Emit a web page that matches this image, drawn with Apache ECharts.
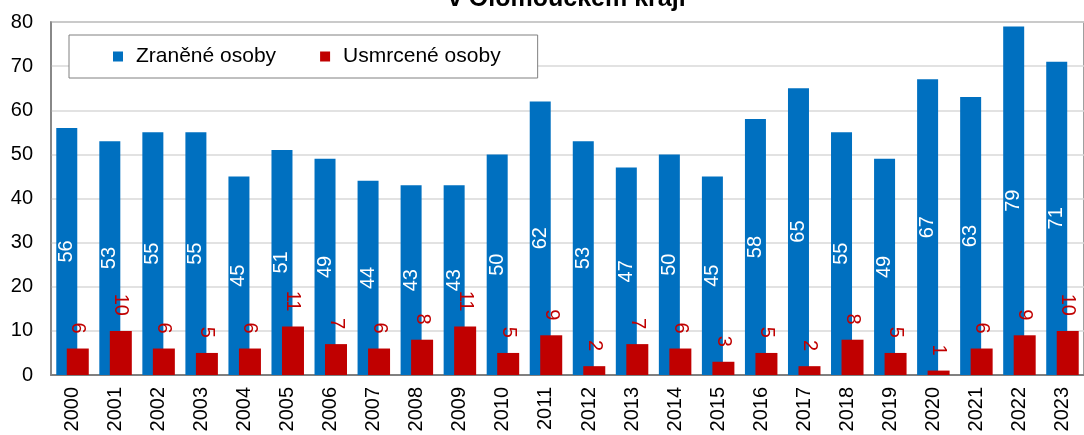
<!DOCTYPE html>
<html>
<head>
<meta charset="utf-8">
<script src="https://cdn.jsdelivr.net/npm/echarts@6/dist/echarts.min.js"></script>
<style>
  html, body { margin: 0; padding: 0; background: #fff; }
  #chart { width: 1084px; height: 435px; }
</style>
</head>
<body>
<div id="chart"></div>
<script>
const years = ['2000', '2001', '2002', '2003', '2004', '2005', '2006', '2007', '2008', '2009', '2010', '2011',
  '2012', '2013', '2014', '2015', '2016', '2017', '2018', '2019', '2020', '2021', '2022', '2023'];
const injured = [56, 53, 55, 55, 45, 51, 49, 44, 43, 43, 50, 62, 53, 47, 50, 45, 58, 65, 55, 49, 67, 63, 79, 71];
const killed = [6, 10, 6, 5, 6, 11, 7, 6, 8, 11, 5, 9, 2, 7, 6, 3, 5, 2, 8, 5, 1, 6, 9, 10];
const yTicks = [0, 80, 10];

const font = 'Liberation Sans, Arial, sans-serif';
const chart = echarts.init(document.getElementById('chart'));

chart.setOption({
  animation: false,
  textStyle: { fontFamily: font },
  title: {
    text: 'v Olomouckém kraji',
    left: 443,
    top: -18,
    textStyle: { fontFamily: font, fontSize: 25, fontWeight: 'bold', color: '#000' }
  },
  legend: {
    left: 69,
    top: 35,
    backgroundColor: '#fff',
    borderColor: '#808080',
    borderWidth: 1,
    borderRadius: 0,
    padding: [11, 37, 11, 44],
    itemWidth: 10,
    itemHeight: 10,
    itemGap: 44,
    icon: 'rect',
    textStyle: { fontFamily: font, fontSize: 21, color: '#000', padding: [0, 0, 0, 8] },
    data: ['Zraněné osoby', 'Usmrcené osoby']
  },
  grid: {
    left: 51,
    right: -10,
    top: 22,
    bottom: 60,
    show: true,
    borderColor: '#808080',
    borderWidth: 1.5
  },
  xAxis: {
    type: 'category',
    data: years,
    axisTick: { show: false },
    axisLine: { lineStyle: { color: '#808080', width: 2 } },
    axisLabel: { rotate: 90, fontSize: 20, color: '#000', margin: 12, fontFamily: font }
  },
  yAxis: {
    type: 'value',
    min: yTicks[0],
    max: yTicks[1],
    interval: yTicks[2],
    axisLine: { show: true, lineStyle: { color: '#808080', width: 1.5 } },
    axisTick: { show: false },
    axisLabel: { fontSize: 20, color: '#000', margin: 18, fontFamily: font },
    splitLine: { lineStyle: { color: '#d9d9d9', width: 1.5 } }
  },
  series: [
    {
      name: 'Zraněné osoby',
      type: 'bar',
      data: injured,
      barWidth: 21,
      barGap: '-50%',
      itemStyle: { color: '#0070C0' },
      label: {
        show: true,
        position: 'inside',
        rotate: 90,
        color: '#fff',
        fontSize: 20,
        fontFamily: font
      },
      z: 2
    },
    {
      name: 'Usmrcené osoby',
      type: 'bar',
      data: killed,
      barWidth: 22,
      itemStyle: { color: '#C00000' },
      label: {
        show: true,
        position: 'top',
        rotate: -90,
        align: 'right',
        verticalAlign: 'middle',
        distance: 15,
        color: '#C00000',
        fontSize: 20,
        fontFamily: font
      },
      z: 3
    }
  ]
});
</script>
</body>
</html>
